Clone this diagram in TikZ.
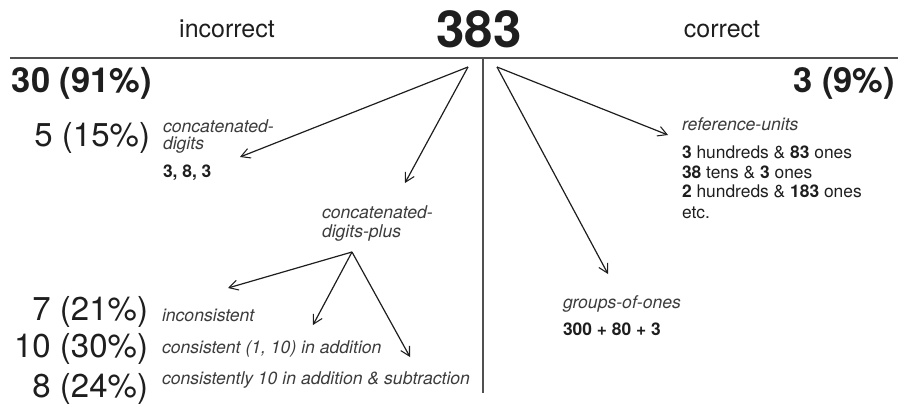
\documentclass[tikz,border=0pt]{standalone}
\usepackage{fontspec}
\setmainfont{TeX Gyre Heros}
\usetikzlibrary{arrows.meta}
\definecolor{ink}{HTML}{1E1E1E}
\definecolor{soft}{HTML}{3C3C3C}
\definecolor{rule}{HTML}{505050}
\begin{document}
\begin{tikzpicture}[x=1pt,y=-1pt,
  every node/.style={inner sep=0pt,outer sep=0pt,text=ink},
  head/.style={font=\fontsize{25}{30}\selectfont,anchor=base},
  bignum/.style={font=\fontsize{33}{36}\selectfont,anchor=base east},
  boldnum/.style={font=\bfseries\fontsize{34.5}{36}\selectfont},
  cat/.style={font=\itshape\fontsize{17.6}{17.5}\selectfont,text=soft,anchor=base west,align=left},
  ex/.style={font=\fontsize{17.4}{20}\selectfont,anchor=base west,align=left},
  exb/.style={ex,font=\bfseries\fontsize{17.4}{20}\selectfont},
  arr/.style={draw=ink,line width=1.2pt,-{Straight Barb[length=9pt,width=10pt,line width=1.05pt]}},
  ruleline/.style={draw=rule,line width=1.2pt}]
\useasboundingbox (0,0) rectangle (900,405);
% header
\node[head] (inc) at (227,37) {incorrect};
\node[font=\bfseries\fontsize{51}{55}\selectfont,anchor=base] (top) at (479,47) {383};
\node[head] (cor) at (722,37) {correct};
\coordinate (hl) at (10,58);
\coordinate (hr) at (898,58);
\coordinate (vt) at (483,58);
\coordinate (vb) at (483,393);
\draw[ruleline] (hl) -- (hr);
\draw[ruleline] (vt) -- (vb);
% totals
\node[boldnum,anchor=base west] (tinc) at (12,92) {30 (91\%)};
\node[boldnum,anchor=base east] (tcor) at (895,92) {3 (9\%)};
% origins
\coordinate (ol) at (468,67);
\coordinate (or) at (497,67);
% left branch
\node[bignum] (n5) at (150,146) {5 (15\%)};
\node[cat] (cd) at (163,149.5) {concatenated-\\digits};
\node[exb] (cdex) at (163,177) {3, 8, 3};
\coordinate (a1) at (240,157);
\draw[arr] (ol) -- (a1);
\coordinate (a2) at (405,183);
\draw[arr] (ol) -- (a2);
\node[cat] (cdp) at (322,237) {concatenated-\\[1pt]digits-plus};
\coordinate (op) at (352,252);
\coordinate (b1) at (228,288);
\coordinate (b2) at (313,325);
\coordinate (b3) at (410,357);
\draw[arr] (op) -- (b1);
\draw[arr] (op) -- (b2);
\draw[arr] (op) -- (b3);
\node[bignum] (n7) at (148,320) {7 (21\%)};
\node[bignum] (n10) at (148,357) {10 (30\%)};
\node[bignum] (n8) at (148,397) {8 (24\%)};
\node[cat] (l7) at (162,321) {inconsistent};
\node[cat] (l10) at (162,353) {consistent (1, 10) in addition};
\node[cat] (l8) at (162,384) {consistently 10 in addition \& subtraction};
% right branch
\coordinate (c1) at (668,135);
\coordinate (c2) at (608,274);
\draw[arr] (or) -- (c1);
\draw[arr] (or) -- (c2);
\node[cat] (ru) at (682,130) {reference-units};
\node[ex] (ruex) at (682,218) {\textbf{3} hundreds \& \textbf{83} ones\\[-0.5pt]\textbf{38} tens \& \textbf{3} ones\\[-0.5pt]\textbf{2} hundreds \& \textbf{183} ones\\[0.5pt]etc.};
\node[cat] (go) at (563,308) {groups-of-ones};
\node[exb] (goex) at (563,335) {300 + 80 + 3};
\end{tikzpicture}
\end{document}
